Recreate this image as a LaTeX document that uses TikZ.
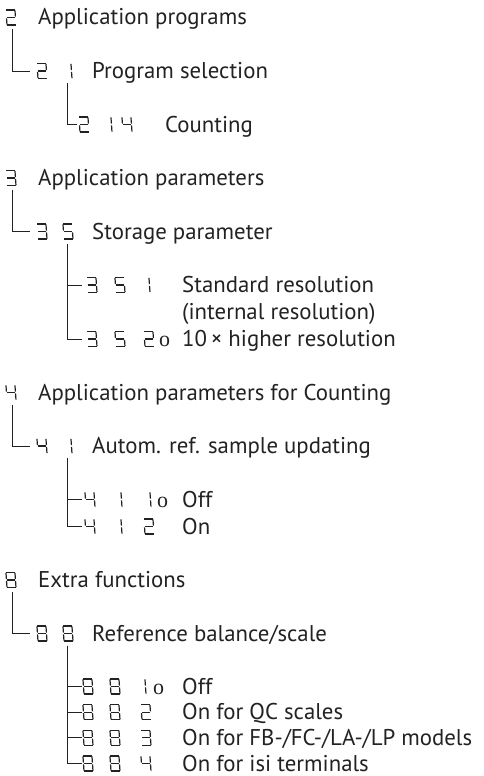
\documentclass[tikz,border=0pt]{standalone}
\usepackage{fontspec}
\setmainfont{PT Sans}
\newfontfamily\serifo{Liberation Serif}
\definecolor{ink}{rgb}{0.14,0.13,0.13}
\def\sga{(0.4,15)--(8.6,15)}
\def\sgb{(9,14.6)--(9,8.4)}
\def\sgc{(9,6.6)--(9,0.4)}
\def\sgd{(0.4,0)--(8.6,0)}
\def\sge{(0,0.4)--(0,6.6)}
\def\sgf{(0,8.4)--(0,14.6)}
\def\sgg{(0.6,7.5)--(8.4,7.5)}
\newcommand\segdig[3]{\begin{scope}[shift={(#1,#2)},yscale=-1,xslant=0.07]%
\foreach \s in {#3}{\edef\segtmp{\noexpand\draw[segline] \csname sg\s\endcsname;}\segtmp}%
\end{scope}}
\newcommand\Dg[3]{\ifcase#3\or\segdig{#1}{#2}{b,c}\or\segdig{#1}{#2}{a,b,g,e,d}\or\segdig{#1}{#2}{a,b,g,c,d}\or\segdig{#1}{#2}{f,g,b,c}\or\segdig{#1}{#2}{a,f,g,c,d}\or\or\or\segdig{#1}{#2}{a,b,c,d,e,f,g}\fi}
\begin{document}
\begin{tikzpicture}[x=1pt,y=-1pt,
  segline/.style={draw=ink,line width=1.2pt},
  tree/.style={draw=ink,line width=0.9pt},
  lbl/.style={anchor=base west,inner sep=0pt,text=ink,font=\fontsize{22.8}{27}\selectfont},
  onode/.style={anchor=base west,inner sep=0pt,text=ink,font=\serifo\fontsize{22}{27}\selectfont}]
\useasboundingbox (0,0) rectangle (483,776);
% ---- section 2
\Dg{7}{25}{2}
\node[lbl] (t2) at (38,25) {Application programs};
\Dg{38}{78.5}{2}\Dg{63}{78.5}{1}
\node[lbl] (t21) at (92,78.5) {Program selection};
\Dg{80}{132}{2}\Dg{103}{132}{1}\Dg{123}{132}{4}
\node[lbl] (t214) at (165,132) {Counting};
\coordinate (v2) at (12.5,29);
\coordinate (h21) at (30,71);
\draw[tree] (v2) |- (h21);
\coordinate (v21) at (67,83);
\coordinate (h214) at (77,124.5);
\draw[tree] (v21) |- (h214);
% ---- section 3
\Dg{7}{185.5}{3}
\node[lbl] (t3) at (38,185.5) {Application parameters};
\Dg{38}{239}{3}\Dg{64}{239}{5}
\node[lbl] (t35) at (92,239) {Storage parameter};
\Dg{88}{292.5}{3}\Dg{116}{292.5}{5}\Dg{141}{292.5}{1}
\node[lbl] (t351) at (182,292.5) {Standard resolution};
\node[lbl] (t351b) at (182,319.5) {(internal resolution)};
\Dg{88}{346.5}{3}\Dg{116}{346.5}{5}\Dg{145}{346.5}{2}
\node[onode] (o352) at (159,346.5) {o};
\node[lbl] (t352) at (182,346.5) {10\,× higher resolution};
\coordinate (v3) at (12.5,190);
\coordinate (h35) at (30,231.5);
\draw[tree] (v3) |- (h35);
\coordinate (v35) at (67,243.5);
\coordinate (h351) at (82,285);
\coordinate (h352) at (82,339);
\draw[tree] (v35) |- (h352);
\draw[tree] (v35) |- (h351);
% ---- section 4
\Dg{7}{400}{4}
\node[lbl] (t4) at (38,400) {Application parameters for Counting};
\Dg{38}{453.5}{4}\Dg{63}{453.5}{1}
\node[lbl] (t41) at (92,453.5) {Autom. ref. sample updating};
\Dg{86}{507}{4}\Dg{113}{507}{1}\Dg{142}{507}{1}
\node[onode] (o411) at (157,507) {o};
\node[lbl] (t411) at (182,507) {Off};
\Dg{86}{534}{4}\Dg{113}{534}{1}\Dg{145}{534}{2}
\node[lbl] (t412) at (182,534) {On};
\coordinate (v4) at (12.5,404.5);
\coordinate (h41) at (30,446);
\draw[tree] (v4) |- (h41);
\coordinate (v41) at (67,458);
\coordinate (h411) at (82,499.5);
\coordinate (h412) at (82,526.5);
\draw[tree] (v41) |- (h412);
\draw[tree] (v41) |- (h411);
% ---- section 8
\Dg{7}{587.5}{8}
\node[lbl] (t8) at (38,587.5) {Extra functions};
\Dg{38}{641}{8}\Dg{64}{641}{8}
\node[lbl] (t88) at (92,641) {Reference balance/scale};
\Dg{84}{694}{8}\Dg{111}{694}{8}\Dg{137}{694}{1}
\node[onode] (o881) at (153,694) {o};
\node[lbl] (t881) at (182,694) {Off};
\Dg{84}{719.7}{8}\Dg{111}{719.7}{8}\Dg{142}{719.7}{2}
\node[lbl] (t882) at (182,719.7) {On for QC scales};
\Dg{84}{745.3}{8}\Dg{111}{745.3}{8}\Dg{142}{745.3}{3}
\node[lbl] (t883) at (182,745.3) {On for FB-/FC-/LA-/LP models};
\Dg{84}{771}{8}\Dg{111}{771}{8}\Dg{142}{771}{4}
\node[lbl] (t884) at (182,771) {On for isi terminals};
\coordinate (v8) at (12.5,592);
\coordinate (h88) at (30,633.5);
\draw[tree] (v8) |- (h88);
\coordinate (v88) at (67,645.5);
\coordinate (h881) at (82,686.5);
\coordinate (h882) at (82,712.2);
\coordinate (h883) at (82,737.8);
\coordinate (h884) at (82,763.5);
\draw[tree] (v88) |- (h884);
\draw[tree] (v88) |- (h881);
\draw[tree] (v88) |- (h882);
\draw[tree] (v88) |- (h883);
\end{tikzpicture}
\end{document}
